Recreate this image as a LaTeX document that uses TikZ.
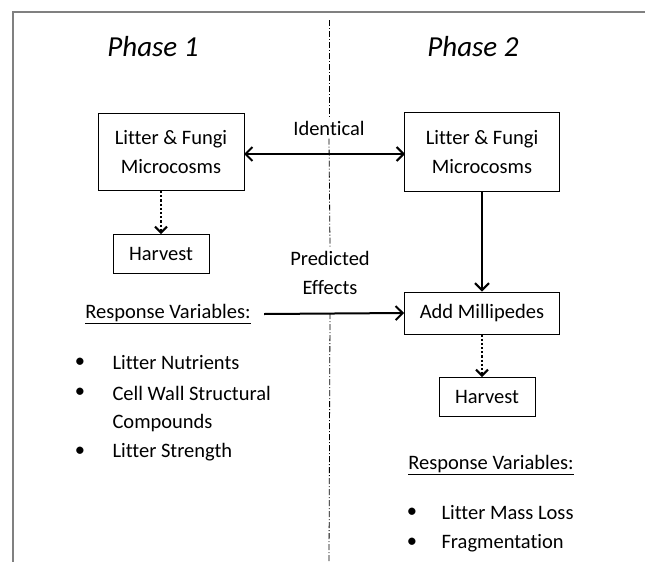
\documentclass[tikz,border=0pt]{standalone}
\usepackage{fontspec}
\setmainfont{Carlito}[Ligatures=NoCommon]
\usetikzlibrary{arrows.meta}

\tikzset{
  box/.style={draw, line width=0.9pt, align=center, inner sep=0pt, font=\fontsize{20.5}{29}\selectfont},
  lbl/.style={align=center, font=\fontsize{20.5}{29}\selectfont},
  phase/.style={font=\fontsize{29}{34}\selectfont\itshape},
  tip/.style={Straight Barb[length=7pt,width=14pt,line width=2pt]},
  flow/.style={line width=2pt, -{Straight Barb[length=7pt,width=14pt,line width=2pt]}},
  both/.style={line width=2pt, {Straight Barb[length=7pt,width=14pt,line width=2pt]}-{Straight Barb[length=7pt,width=14pt,line width=2pt]}},
  harv/.style={line width=2.2pt, dotted, -{Straight Barb[length=6pt,width=12pt,line width=2pt]}},
  divider/.style={line width=0.8pt, dash pattern=on 6pt off 2pt on 1pt off 2pt},
}

\begin{document}
\begin{tikzpicture}[x=1pt,y=-1pt]
\useasboundingbox (0,0) rectangle (645,562);

\coordinate (frametr) at (645,12);
\coordinate (frametl) at (13,12);
\coordinate (framebl) at (13,562);
\draw[gray, line width=1.5pt] (frametr)--(frametl)--(framebl);

\node[phase] (ph1) at (153,47) {Phase 1};
\node[phase] (ph2) at (473,47) {Phase 2};

\node[box, minimum width=146, minimum height=77] (mic1) at (171,152) {Litter \& Fungi\\Microcosms};
\node[box, minimum width=155, minimum height=79] (mic2) at (482,152) {Litter \& Fungi\\Microcosms};
\node[box, minimum width=96, minimum height=39] (harv1) at (161,254) {Harvest};
\node[box, minimum width=155, minimum height=42] (mill) at (482,313) {Add Millipedes};
\node[box, minimum width=96, minimum height=39] (harv2) at (487,397) {Harvest};

\node[lbl] (ident) at (329,128) {Identical};
\node[lbl] (pred) at (330,273) {Predicted\\Effects};

% middle line, broken by the labels
\coordinate (divtop) at (329,20);
\coordinate (divbot) at (329,562);
\draw[divider] (divtop)--(ident.north);
\draw[divider] (ident.south)--(pred.north);
\draw[divider] (pred.south |- mill.west)--(divbot);

\node[lbl] (resp1) at (168,314) {\underline{Response Variables:}};
\node[lbl] (resp2) at (491,465) {\underline{Response Variables:}};

\coordinate (idl) at (244,154);
\coordinate (idr) at (405,154);
\draw[both] (idl)--(idr);
\draw[harv] (mic1.south -| harv1)--(harv1.north);
\draw[flow] (mic2.south)--(mill.north);
\draw[flow] (resp1.east)++(10,0)--(mill.west);
\draw[harv] (mill.south)--(mill.south|-harv2.north);

% bullet lists
\foreach \y in {363,393,452}
  \node[lbl] at (80,\y) {\textbullet};
\node[lbl, anchor=west] (n1) at (109,363) {Litter Nutrients};
\node[lbl, anchor=west] (n2) at (109,393) {Cell Wall Structural};
\node[lbl, anchor=west] (n3) at (109,423) {Compounds};
\node[lbl, anchor=west] (n4) at (109,452) {Litter Strength};

\foreach \y in {513,543}
  \node[lbl] at (412,\y) {\textbullet};
\node[lbl, anchor=west] (m1) at (438,513) {Litter Mass Loss};
\node[lbl, anchor=west] (m2) at (438,543) {Fragmentation};

\end{tikzpicture}
\end{document}
